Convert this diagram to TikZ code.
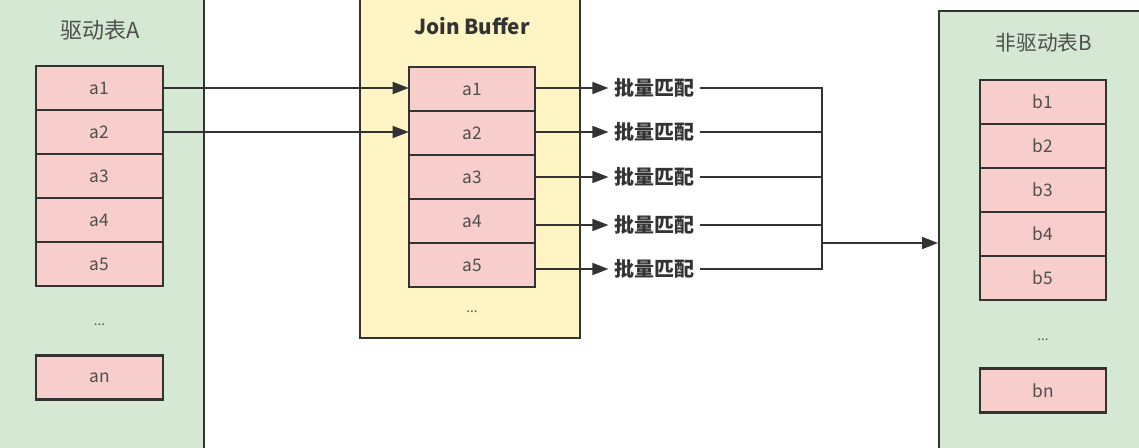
\documentclass[tikz,border=0pt]{standalone}
\usepackage{fontspec}
\setmainfont{Noto Sans CJK SC}
\usetikzlibrary{arrows.meta,positioning}
\definecolor{tblgreen}{HTML}{D5E8D4}
\definecolor{bufyellow}{HTML}{FFF4C4}
\definecolor{rowpink}{HTML}{F8CECC}
\definecolor{inkgray}{HTML}{333333}
\definecolor{txtgray}{HTML}{4F4F4F}

\begin{document}
\begin{tikzpicture}[x=0.75pt,y=-0.75pt,>={Triangle[length=12pt,width=9pt]},
    every node/.style={align=center},
    panel/.style={draw=inkgray,line width=1.3pt,anchor=north west,inner sep=0pt},
    row/.style={draw=inkgray,line width=1.6pt,fill=rowpink,minimum width=95pt,minimum height=33pt,
      outer sep=0pt,inner sep=0pt,font=\fontsize{13}{15}\selectfont,text=txtgray},
    dots/.style={font=\fontsize{10}{12}\selectfont,text=txtgray},
    title/.style={font=\fontsize{16}{19}\selectfont,text=txtgray},
    batch/.style={font=\bfseries\fontsize{15}{18}\selectfont,text=inkgray,inner sep=4pt},
    link/.style={draw=inkgray,line width=1.3pt}]
  \useasboundingbox (0,0) rectangle (1139,448);
  \clip (0,0) rectangle (1139,448);
  \fill[white] (0,0) rectangle (1139,448);

  % driving table A
  \node[panel,fill=tblgreen,minimum width=159.75pt,minimum height=352.5pt] (tabA) at (-10,-10) {};
  \node[title,font=\fontsize{16.5}{19}\selectfont] (titleA) at (100,30) {驱动表A};
  \node[row] (a1) at (99.5,88) {a1};
  \node[row,below=0pt of a1] (a2) {a2};
  \node[row,below=0pt of a2] (a3) {a3};
  \node[row,below=0pt of a3] (a4) {a4};
  \node[row,below=0pt of a4] (a5) {a5};
  \node[dots] (adots) at (99.5,325) {...};
  \node[row] (an) at (99.5,377.5) {an};

  % join buffer
  \node[panel,fill=bufyellow,minimum width=165pt,minimum height=260.25pt] (buf) at (359,-10) {};
  \node[font=\bfseries\fontsize{15.5}{18}\selectfont,text=inkgray] (titleBuf) at (472,26) {Join Buffer};
  \node[row] (ja1) at (472,89) {a1};
  \node[row,below=0pt of ja1] (ja2) {a2};
  \node[row,below=0pt of ja2] (ja3) {a3};
  \node[row,below=0pt of ja3] (ja4) {a4};
  \node[row,below=0pt of ja4] (ja5) {a5};
  \node[dots] (jdots) at (472,312) {...};

  % non-driving table B
  \node[panel,fill=tblgreen,minimum width=159pt,minimum height=337.5pt] (tabB) at (938,10) {};
  \node[title,font=\fontsize{15.5}{19}\selectfont] (titleB) at (1044,43) {非驱动表B};
  \node[row] (b1) at (1043,102) {b1};
  \node[row,below=0pt of b1] (b2) {b2};
  \node[row,below=0pt of b2] (b3) {b3};
  \node[row,below=0pt of b3] (b4) {b4};
  \node[row,below=0pt of b4] (b5) {b5};
  \node[dots] (bdots) at (1043,340) {...};
  \node[row] (bn) at (1043,390.5) {bn};

  % batch matching
  \node[batch] (m1) at (654,88) {批量匹配};
  \node[batch] (m2) at (654,132) {批量匹配};
  \node[batch] (m3) at (654,177) {批量匹配};
  \node[batch] (m4) at (654,225) {批量匹配};
  \node[batch] (m5) at (654,269) {批量匹配};
  \coordinate (hub) at (822,243);

  \draw[link,->] (a1.east) -- (a1.east -| ja1.west);
  \draw[link,->] (a2.east) -- (a2.east -| ja2.west);
  \draw[link,->] (ja1.east |- m1.west) -- (m1.west);
  \draw[link,->] (ja2.east |- m2.west) -- (m2.west);
  \draw[link,->] (ja3.east |- m3.west) -- (m3.west);
  \draw[link,->] (ja4.east |- m4.west) -- (m4.west);
  \draw[link,->] (ja5.east |- m5.west) -- (m5.west);
  \draw[link] (m1.east) -- (m1.east -| hub) -- (m5.east -| hub) -- (m5.east);
  \draw[link] (m2.east) -- (m2.east -| hub);
  \draw[link] (m3.east) -- (m3.east -| hub);
  \draw[link] (m4.east) -- (m4.east -| hub);
  \draw[link,->] (hub) -- (hub -| tabB.west);
\end{tikzpicture}
\end{document}
